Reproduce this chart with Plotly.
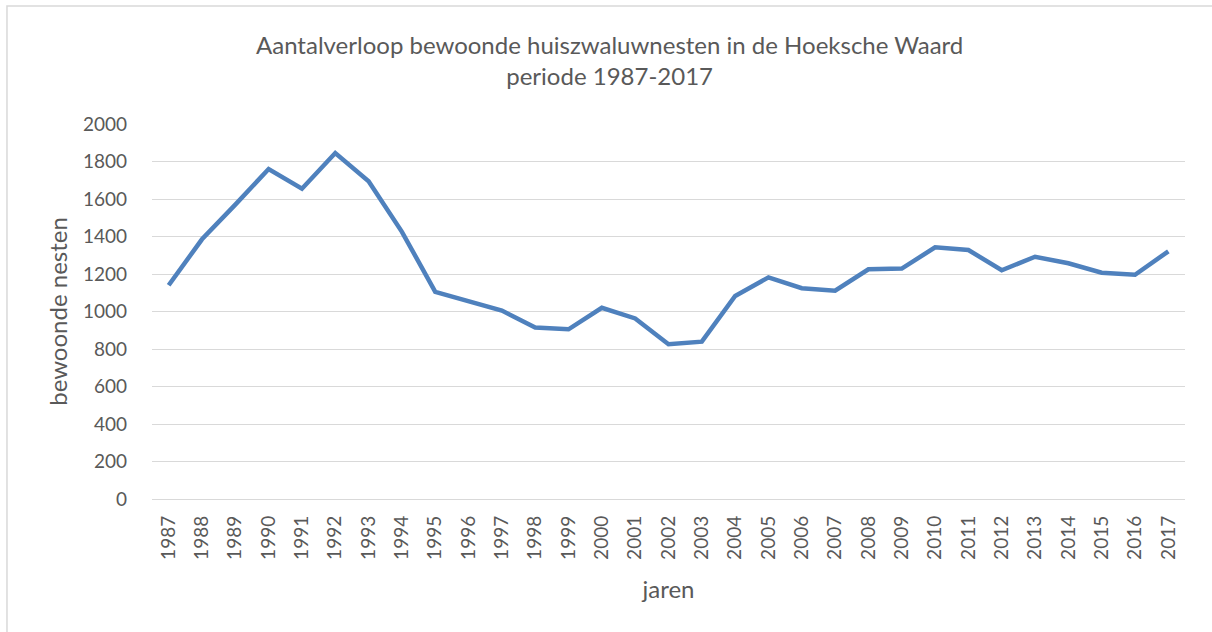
import plotly.graph_objects as go

years = [str(y) for y in range(1987, 2018)]
nests = [1140, 1385, 1570, 1760, 1655, 1845, 1695, 1425, 1105, 1055, 1005, 915, 905,
         1020, 963, 825, 839, 1083, 1182, 1124, 1111, 1225, 1229, 1342, 1328, 1220,
         1292, 1257, 1207, 1196, 1321]
y_ticks = list(range(0, 2001, 200))

title_text = "Aantalverloop bewoonde huiszwaluwnesten in de Hoeksche Waard<br>periode 1987-2017"
font_family = "Lato, 'Open Sans', sans-serif"
text_color = "#595959"

fig = go.Figure()
fig.add_trace(go.Scatter(
    x=years, y=nests, mode="lines",
    line=dict(color="#4F81BD", width=4.5),
    showlegend=False, hoverinfo="x+y",
))

fig.update_layout(
    width=1212, height=632,
    margin=dict(l=152, r=27, t=124, b=133),
    paper_bgcolor="white", plot_bgcolor="white",
    font=dict(family=font_family, color=text_color, size=19),
    title=dict(text=title_text, x=0.503, xanchor="center", y=0.915, yanchor="top",
               font=dict(size=24, color=text_color, family=font_family)),
    xaxis=dict(
        type="category", range=[-0.5, 30.5], tickangle=-90,
        showgrid=False, showline=False, ticks="",
        ticklabelstandoff=12,
        tickfont=dict(size=19, color=text_color),
        title=dict(text="jaren", font=dict(size=24, color=text_color), standoff=22),
    ),
    yaxis=dict(
        range=[0, 2000], tickvals=y_ticks, ticktext=[str(v) for v in y_ticks],
        showgrid=True, gridcolor="#D9D9D9", gridwidth=1.3,
        zeroline=True, zerolinecolor="#D9D9D9", zerolinewidth=1.3,
        showline=False, ticks="", ticklabelstandoff=24,
        tickfont=dict(size=19, color=text_color),
        title=dict(text="bewoonde nesten", font=dict(size=24, color=text_color), standoff=8),
    ),
    shapes=[dict(type="rect", xref="paper", yref="paper",
                 x0=-0.1404, x1=1.031, y0=-0.376, y1=1.3147,
                 line=dict(color="#D9D9D9", width=1.5), fillcolor="rgba(0,0,0,0)", layer="below")],
)

fig.write_html("out.html", config={"displayModeBar": False},
               post_script="document.body.style.margin='0';document.body.style.overflow='hidden';")
